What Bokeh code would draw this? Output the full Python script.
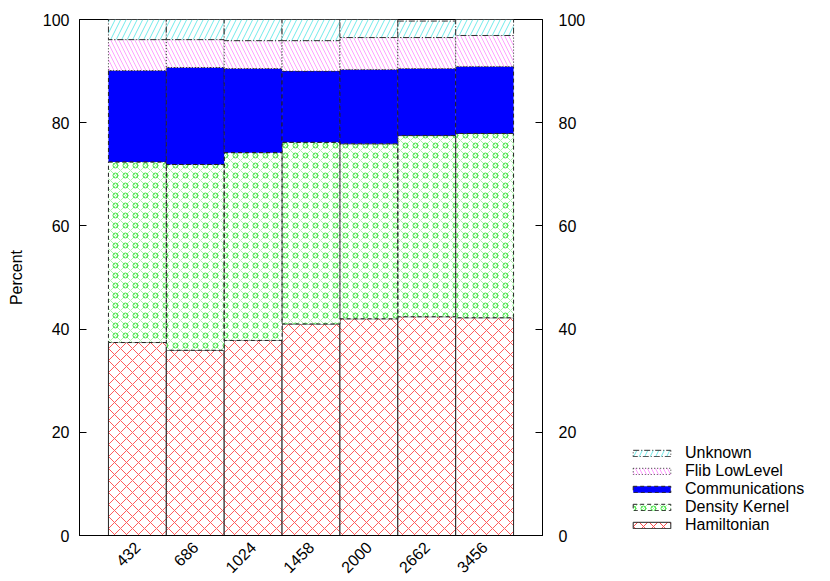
import math
from bokeh.plotting import figure
from bokeh.layouts import row
from bokeh.models import (FactorRange, Range1d, LinearAxis, FixedTicker, Legend,
                          LegendItem, ColumnDataSource)
from bokeh.transform import stack
from bokeh.embed import file_html
from bokeh.resources import INLINE

sizes = ["432", "686", "1024", "1458", "2000", "2662", "3456"]
hamiltonian = [37.4, 35.9, 37.8, 41.0, 42.0, 42.4, 42.2]
density_kernel = [35.0, 36.0, 36.4, 35.2, 33.9, 35.1, 35.7]
communications = [17.7, 18.8, 16.3, 13.8, 14.4, 13.0, 13.0]
flib_lowlevel = [6.0, 5.4, 5.4, 5.9, 6.2, 6.0, 6.0]
unknown = [3.9, 3.9, 4.1, 4.1, 3.5, 3.2, 3.1]
y_ticks = [0, 20, 40, 60, 80, 100]
series_labels = ["Hamiltonian", "Density Kernel", "Communications",
                 "Flib LowLevel", "Unknown"]

FONT = "Liberation Sans"

STY_HAM = dict(fill_color="white", hatch_pattern="x", hatch_color="#ff5a5a",
               hatch_scale=12, hatch_weight=1, line_color="#222222", line_width=1)
STY_DK1 = dict(fill_color="white", hatch_pattern="x", hatch_color="#a8f2a8",
               hatch_scale=10, hatch_weight=1, line_alpha=0)
STY_DK2 = dict(fill_alpha=0, hatch_pattern="o", hatch_color="#3ee23e",
               hatch_scale=10, hatch_weight=1, line_color="#222222",
               line_width=1, line_dash="4 3")
STY_COMM = dict(fill_color="#0000ff", line_color="#222222", line_width=1,
                line_dash="4 3")
STY_FLIB = dict(fill_color="white", hatch_pattern="\\", hatch_color="#ffa0ff",
                hatch_scale=8, hatch_weight=1, line_color="#333333",
                line_width=1, line_dash="1 2")
STY_UNK = dict(fill_color="white", hatch_pattern="/", hatch_color="#70eaea",
               hatch_scale=11, hatch_weight=1, line_color="#333333",
               line_width=1, line_dash="6 2 1 2")

src = ColumnDataSource(dict(x=sizes, ham=hamiltonian, dk=density_kernel,
                            comm=communications, flib=flib_lowlevel, unk=unknown))

p = figure(width=600, height=581,
           x_range=FactorRange(*sizes, range_padding=1/7),
           y_range=Range1d(0, 100),
           output_backend="svg", toolbar_location=None,
           min_border_left=79, min_border_right=58,
           min_border_top=19, min_border_bottom=44)
p.xgrid.visible = False
p.ygrid.visible = False
p.outline_line_color = "black"
p.outline_line_width = 1
p.background_fill_color = "white"
p.border_fill_color = "white"

W = 1.0
p.vbar(x="x", width=W, bottom=0, top=stack("ham"), source=src, **STY_HAM)
p.vbar(x="x", width=W, bottom=stack("ham"), top=stack("ham", "dk"), source=src, **STY_DK1)
p.vbar(x="x", width=W, bottom=stack("ham"), top=stack("ham", "dk"), source=src, **STY_DK2)
p.vbar(x="x", width=W, bottom=stack("ham", "dk"), top=stack("ham", "dk", "comm"),
       source=src, **STY_COMM)
p.vbar(x="x", width=W, bottom=stack("ham", "dk", "comm"),
       top=stack("ham", "dk", "comm", "flib"), source=src, **STY_FLIB)
p.vbar(x="x", width=W, bottom=stack("ham", "dk", "comm", "flib"),
       top=stack("ham", "dk", "comm", "flib", "unk"), source=src, **STY_UNK)

# axes
p.yaxis.ticker = FixedTicker(ticks=y_ticks)
ax = p.yaxis[0]
ax.major_tick_in = 7
ax.major_tick_out = 0
ax.minor_tick_in = 0
ax.minor_tick_out = 0
ax.axis_line_color = "black"
ax.major_tick_line_color = "black"
ax.major_label_text_font = FONT
ax.major_label_text_font_size = "16px"
ax.major_label_text_color = "black"
ax.major_label_standoff = 10
ax.axis_label = "Percent"
ax.axis_label_text_font = FONT
ax.axis_label_text_font_size = "16px"
ax.axis_label_text_font_style = "normal"
ax.axis_label_text_color = "black"
ax.axis_label_standoff = 15

rax = LinearAxis(ticker=FixedTicker(ticks=y_ticks))
rax.major_tick_in = 7
rax.major_tick_out = 0
rax.minor_tick_in = 0
rax.minor_tick_out = 0
rax.axis_line_color = "black"
rax.major_tick_line_color = "black"
rax.major_label_text_font = FONT
rax.major_label_text_font_size = "16px"
rax.major_label_text_color = "black"
rax.major_label_standoff = 16
p.add_layout(rax, "right")

xa = p.xaxis[0]
xa.major_tick_in = 0
xa.major_tick_out = 0
xa.axis_line_color = "black"
xa.major_label_orientation = math.pi / 4
xa.major_label_text_font = FONT
xa.major_label_text_font_size = "16px"
xa.major_label_text_color = "black"
xa.major_label_standoff = 9

# key panel (separate canvas so the key is not clipped by the plot frame)
pl = figure(width=230, height=581, x_range=Range1d(0, 1), y_range=Range1d(0, 1),
            x_axis_location=None, y_axis_location=None,
            output_backend="svg", toolbar_location=None,
            min_border=0, min_border_left=0, min_border_right=0,
            min_border_top=0, min_border_bottom=0)
pl.xgrid.visible = False
pl.ygrid.visible = False
pl.outline_line_color = None
pl.background_fill_color = "white"
pl.border_fill_color = "white"
NAN = float("nan")
KEY_HAM = dict(STY_HAM, hatch_scale=10, hatch_color="#ff4d4d", hatch_alpha=1.0)
k_ham = pl.vbar(x=[NAN], top=[NAN], width=1, **KEY_HAM)
k_dk1 = pl.vbar(x=[NAN], top=[NAN], width=1, **STY_DK1)
k_dk2 = pl.vbar(x=[NAN], top=[NAN], width=1, **STY_DK2)
k_comm = pl.vbar(x=[NAN], top=[NAN], width=1, **STY_COMM)
k_flib = pl.vbar(x=[NAN], top=[NAN], width=1, **STY_FLIB)
k_unk = pl.vbar(x=[NAN], top=[NAN], width=1, **STY_UNK)

legend = Legend(items=[
    LegendItem(label=series_labels[4], renderers=[k_unk]),
    LegendItem(label=series_labels[3], renderers=[k_flib]),
    LegendItem(label=series_labels[2], renderers=[k_comm]),
    LegendItem(label=series_labels[1], renderers=[k_dk1, k_dk2]),
    LegendItem(label=series_labels[0], renderers=[k_ham]),
], location=(28, 1))
legend.glyph_width = 47
legend.glyph_height = 8
legend.label_height = 16
legend.label_standoff = 10
legend.spacing = 0
legend.padding = 0
legend.margin = 0
legend.border_line_alpha = 0
legend.background_fill_alpha = 0
legend.label_text_font = FONT
legend.label_text_font_size = "16px"
legend.label_text_color = "black"
pl.add_layout(legend, "center")

layout = row(p, pl, spacing=0)
open("out.html", "w").write(file_html(layout, INLINE))
